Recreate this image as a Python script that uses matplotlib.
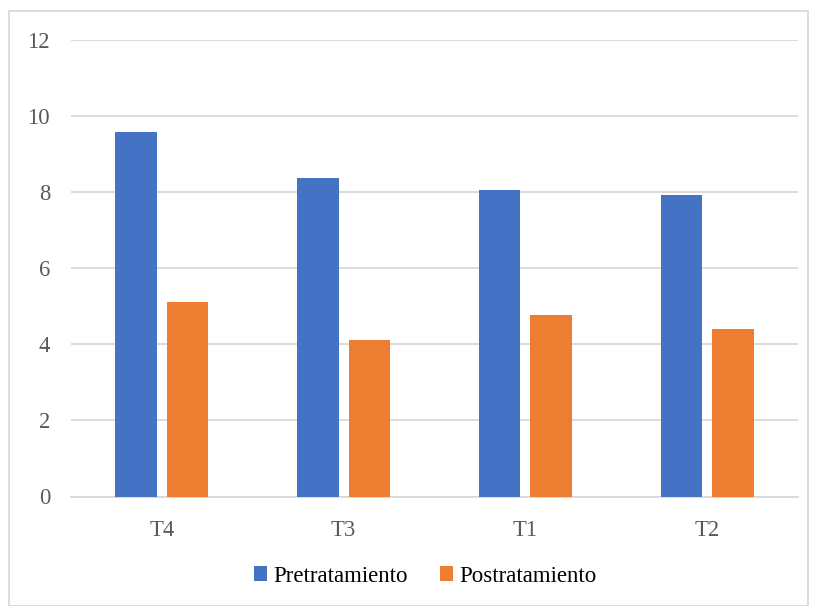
import matplotlib
matplotlib.use("Agg")
import matplotlib.pyplot as plt
import numpy as np
from matplotlib.patches import Rectangle, Patch

categories = ["T4", "T3", "T1", "T2"]
pretratamiento = [9.58, 8.37, 8.05, 7.93]
postratamiento = [5.11, 4.12, 4.78, 4.41]
y_ticks = [0, 2, 4, 6, 8, 10, 12]

blue = "#4472C4"
orange = "#ED7D31"
grid_col = "#D9D9D9"
text_col = "#595959"

plt.rcParams["font.family"] = ["Liberation Serif", "DejaVu Serif"]

fig = plt.figure(figsize=(8.14, 6.06), dpi=100)
ax = fig.add_axes([71 / 814, 1 - 496.5 / 606, (798 - 71) / 814, (496.5 - 40) / 606])

x = np.arange(len(categories))
width = 0.228
offset = 0.142
ax.bar(x - offset, pretratamiento, width, color=blue, zorder=3)
ax.bar(x + offset, postratamiento, width, color=orange, zorder=3)

ax.set_xlim(-0.5, len(categories) - 0.5)
ax.set_ylim(0, 12)
ax.set_yticks(y_ticks)
ax.set_yticklabels([str(v) for v in y_ticks])
ax.set_xticks(x)
ax.set_xticklabels(categories)

ax.yaxis.grid(True, color=grid_col, linewidth=1.3, zorder=0)
ax.set_axisbelow(True)
for side in ["top", "right", "left"]:
    ax.spines[side].set_visible(False)
ax.spines["bottom"].set_color(grid_col)
ax.spines["bottom"].set_linewidth(1.3)
ax.tick_params(axis="both", length=0, labelsize=16.3, colors=text_col)
ax.tick_params(axis="y", pad=15)
ax.tick_params(axis="x", pad=17)

handles = [Patch(facecolor=blue, label="Pretratamiento"),
           Patch(facecolor=orange, label="Postratamiento")]
leg = fig.legend(handles=handles, loc="center", bbox_to_anchor=(425 / 814, 1 - 576 / 606),
                 ncol=2, frameon=False, fontsize=16.5, handlelength=0.6, handleheight=0.6,
                 handletextpad=0.25, columnspacing=1.4)
for t in leg.get_texts():
    t.set_color("#000000")

fig.patches.append(Rectangle((9 / 814, 0.0), 799 / 814, 1 - 11 / 606,
                             transform=fig.transFigure, fill=False,
                             edgecolor=grid_col, linewidth=1.3))

fig.savefig("out.png", dpi=100)
